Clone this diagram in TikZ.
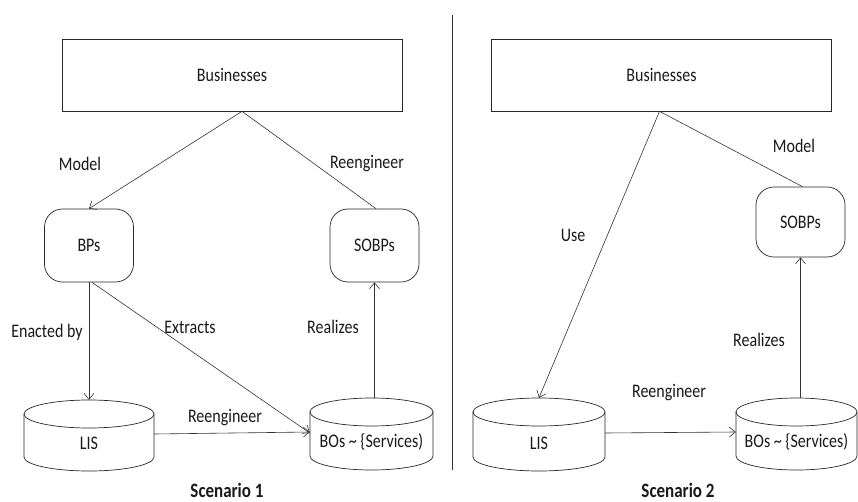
\documentclass[tikz,border=0pt]{standalone}
\usepackage{fontspec}
\setmainfont{Carlito}
\usetikzlibrary{arrows.meta}
\newcommand{\vs}[1]{\scalebox{1}[1.2]{#1}}
\newcommand{\cyl}[6]{%
  \pgfmathsetmacro\cylcx{(#2+#4)/2}%
  \pgfmathsetmacro\cylcy{(#3+#5)/2}%
  \pgfmathsetmacro\cylrx{(#4-#2)/2}%
  \pgfmathsetmacro\cylw{#4-#2}%
  \pgfmathsetmacro\cylh{#5-#3}%
  \pgfmathsetmacro\cylyt{#3+14}%
  \pgfmathsetmacro\cylyb{#5-14}%
  \pgfmathsetmacro\cylkx{0.5523*\cylrx}%
  \pgfmathsetmacro\cylky{0.5523*14}%
  \node[cylbox, minimum width=\cylw pt, minimum height=\cylh pt] (#1) at (\cylcx,\cylcy) {};
  \draw[cylline] (#2,\cylyt) -- (#2,\cylyb)
     .. controls (#2,\cylyb+\cylky) and (\cylcx-\cylkx,#5) .. (\cylcx,#5)
     .. controls (\cylcx+\cylkx,#5) and (#4,\cylyb+\cylky) .. (#4,\cylyb)
     -- (#4,\cylyt);
  \draw[cylline] (\cylcx,\cylyt) ellipse [x radius=\cylrx, y radius=14];
  \node[lab] (#1t) at (\cylcx,#5-28) {\vs{#6}};
}
\begin{document}
\begin{tikzpicture}[x=1pt,y=-1pt,
  every node/.style={font=\fontsize{16}{19}\selectfont, text=black!90},
  box/.style={draw=black!85, line width=0.7pt, minimum width=340pt, minimum height=72pt, inner sep=0},
  rbox/.style={draw=black!85, line width=0.7pt, rounded corners=18pt, minimum width=89pt, minimum height=73pt, inner sep=0},
  cylbox/.style={inner sep=0, draw=none},
  cylline/.style={draw=black!85, line width=0.7pt},
  conn/.style={line width=0.6pt, draw=black!80},
  arr/.style={conn, -{Straight Barb[length=6pt,width=10pt]}},
  lab/.style={inner sep=0},
  blab/.style={inner sep=0, font=\fontsize{17}{20}\selectfont\bfseries},
]
\useasboundingbox (0,0) rectangle (858,502);

% divider
\coordinate (dtop) at (452,15);
\coordinate (dbot) at (452,470);
\draw[line width=0.6pt, draw=black!80] (dtop) -- (dbot);

% ---------- Scenario 1 ----------
\node[box] (biz1) at (232,75) {\vs{Businesses}};
\node[rbox] (bp1) at (89,245.5) {\vs{BPs}};
\node[rbox] (sobp1) at (374.5,245.5) {\vs{SOBPs}};
\cyl{lis1}{24}{400}{154}{471}{LIS}
\cyl{bos1}{310}{398}{433}{470}{BOs \textasciitilde\ \{Services)}

\draw[arr] ([xshift=10pt]biz1.south) -- (bp1.north);
\draw[conn] ([xshift=10pt]biz1.south) -- ([xshift=1.5pt]sobp1.north);
\draw[arr] (bp1.south) -- (lis1.north);
\draw[arr] ([xshift=3pt]bp1.south) -- ([yshift=1pt]bos1.west);
\draw[arr] (bos1.north -| sobp1.south) -- (sobp1.south);
\draw[arr] ([yshift=1.5pt]lis1.east) -- ([yshift=2pt]bos1.west);

\node[lab] (l1a) at (80,164) {\vs{Model}};
\node[lab] (l1b) at (367,164) {\vs{Reengineer}};
\node[lab] (l1c) at (47,332) {\vs{Enacted by}};
\node[lab] (l1d) at (190,327) {\vs{Extracts}};
\node[lab] (l1e) at (333,327) {\vs{Realizes}};
\node[lab] (l1f) at (225,418) {\vs{Reengineer}};
\node[blab] (s1) at (227,490) {\vs{Scenario 1}};

% ---------- Scenario 2 ----------
\node[box] (biz2) at (661.5,75) {\vs{Businesses}};
\node[rbox, minimum height=70pt] (sobp2) at (800.5,222) {\vs{SOBPs}};
\cyl{lis2}{473}{398}{605}{471}{LIS}
\cyl{bos2}{736}{398}{857}{470}{BOs \textasciitilde\ \{Services)}

\draw[arr] ([xshift=-2pt]biz2.south) -- (lis2.north);
\draw[conn] ([xshift=-2pt]biz2.south) -- ([xshift=2pt]sobp2.north);
\draw[arr] (bos2.north -| sobp2.south) -- (sobp2.south);
\draw[arr] ([yshift=1.5pt]lis2.east) -- ([yshift=2pt]bos2.west);

\node[lab] (l2a) at (573,235) {\vs{Use}};
\node[lab] (l2b) at (794,146) {\vs{Model}};
\node[lab] (l2c) at (759,340) {\vs{Realizes}};
\node[lab] (l2d) at (669,393) {\vs{Reengineer}};
\node[blab] (s2) at (678,490) {\vs{Scenario 2}};
\end{tikzpicture}
\end{document}
